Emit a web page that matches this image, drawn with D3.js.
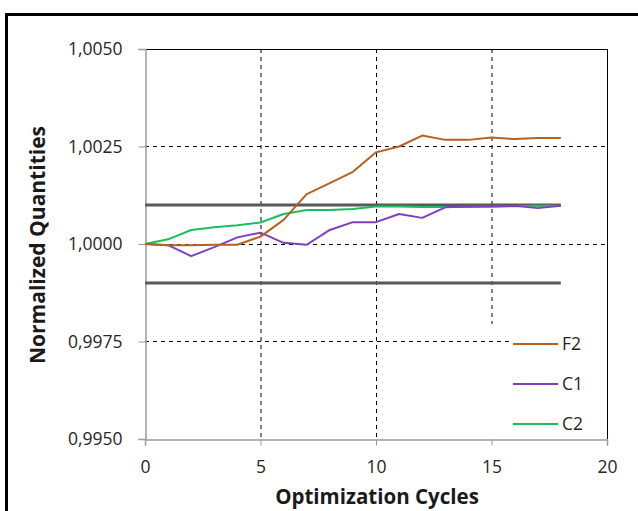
<!DOCTYPE html>
<html><head><meta charset="utf-8">
<script src="https://cdn.jsdelivr.net/npm/d3@7"></script>
<style>body{margin:0;background:#fff;} svg{display:block;font-family:"Open Sans","Liberation Sans",sans-serif;}</style>
</head><body><svg id="c" width="638" height="511"></svg>
<script>
const cycles = [0,1,2,3,4,5,6,7,8,9,10,11,12,13,14,15,16,17,18];
const F2 = [1.0000,0.99997,0.99997,0.99998,0.99998,1.00019,1.00062,1.00128,1.00156,1.00185,1.00235,1.00250,1.00278,1.00267,1.00267,1.00273,1.00269,1.00272,1.00272];
const C1 = [1.0000,0.99997,0.99969,0.99992,1.00017,1.00029,1.00003,0.99998,1.00036,1.00056,1.00056,1.00077,1.00067,1.00094,1.00096,1.00096,1.00098,1.00092,1.00098];
const C2 = [1.0000,1.00012,1.00036,1.00043,1.00048,1.00055,1.00077,1.00087,1.00087,1.00090,1.00096,1.00096,1.00095,1.00095,1.00095,1.00096,1.00097,1.00098,1.00098];
const upperLimit = [1.0010,1.0010];
const lowerLimit = [0.9990,0.9990];
const limitX = [0,18];
const yTicks = [0.9950,0.9975,1.0000,1.0025,1.0050];
const xTicks = [0,5,10,15,20];
const seriesNames = ["F2","C1","C2"];
const colors = {F2:"#B5621F",C1:"#7F3FBF",C2:"#1DBD5E"};

const svg = d3.select("#c");
const L=145,R=607,T=49,B=439;
const x = d3.scaleLinear().domain([0,20]).range([L,R]);
const y = d3.scaleLinear().domain([0.9950,1.0050]).range([B,T]);
const fmt = d => d.toFixed(4).replace(".",",");

// outer frame
svg.append("rect").attr("x",6.5).attr("y",14.5).attr("width",700).attr("height",600)
  .attr("fill","none").attr("stroke","#000").attr("stroke-width",3);

const legBox = {x0:497,y0:324,x1:606,y1:438};

// gridlines
const g = svg.append("g");
[5,10,15].forEach(v=>{
  const yEnd = v===15 ? legBox.y0 : B;
  g.append("line").attr("x1",x(v)+0.5).attr("x2",x(v)+0.5).attr("y1",T).attr("y2",yEnd)
   .attr("stroke","#000").attr("stroke-width",1).attr("stroke-dasharray","4,4");
});
[0.9975,1.0000,1.0025].forEach(v=>{
  const xEnd = v===0.9975 ? legBox.x0+12 : R;
  g.append("line").attr("y1",Math.round(y(v))+0.5).attr("y2",Math.round(y(v))+0.5).attr("x1",L).attr("x2",xEnd)
   .attr("stroke","#000").attr("stroke-width",1).attr("stroke-dasharray","4,4");
});

// plot border top/right
svg.append("line").attr("x1",L).attr("x2",R+0.5).attr("y1",T+0.5).attr("y2",T+0.5).attr("stroke","#000").attr("stroke-width",1);
svg.append("line").attr("x1",R+0.5).attr("x2",R+0.5).attr("y1",T).attr("y2",B).attr("stroke","#000").attr("stroke-width",1);

// axes
const yAxis = d3.axisLeft(y).tickValues(yTicks).tickFormat(fmt).tickSize(7).tickPadding(16);
const ya = svg.append("g").attr("transform",`translate(${L+0.5},0)`).call(yAxis);
const xAxis = d3.axisBottom(x).tickValues(xTicks).tickSize(6).tickPadding(15);
const xa = svg.append("g").attr("transform",`translate(0,${B+0.5})`).call(xAxis);
[ya,xa].forEach(a=>{
  a.select(".domain").attr("stroke","#9a9a9a").attr("stroke-width",1.5);
  a.selectAll(".tick line").attr("stroke","#9a9a9a");
  a.selectAll("text").attr("font-size",17.5).attr("fill","#262626").attr("font-family","'Open Sans','Liberation Sans',sans-serif");
});

// limit lines
const lineGen = d3.line().x(d=>x(d[0])).y(d=>y(d[1]));
[upperLimit,lowerLimit].forEach(arr=>{
  svg.append("path").datum(limitX.map((v,i)=>[v,arr[i]])).attr("d",lineGen)
    .attr("fill","none").attr("stroke","#595959").attr("stroke-width",3.2);
});

// series
const data = {F2,C1,C2};
["C2","C1","F2"].forEach(n=>{
  svg.append("path").datum(cycles.map((c,i)=>[c,data[n][i]])).attr("d",lineGen)
    .attr("fill","none").attr("stroke",colors[n]).attr("stroke-width",2).attr("stroke-linejoin","round");
});

// legend
const legY = [344,384,424];
seriesNames.forEach((n,i)=>{
  svg.append("line").attr("x1",513).attr("x2",558).attr("y1",legY[i]).attr("y2",legY[i])
    .attr("stroke",colors[n]).attr("stroke-width",2);
  svg.append("text").attr("x",562).attr("y",legY[i]).attr("dy","0.36em").attr("font-size",17.5).attr("fill","#262626").text(n);
});

// titles
svg.append("text").attr("x",(L+R)/2+1).attr("y",504).attr("text-anchor","middle")
  .attr("font-size",20.5).attr("font-weight","bold").attr("fill","#1a1a1a").text("Optimization Cycles");
svg.append("text").attr("transform",`translate(45,245) rotate(-90)`).attr("text-anchor","middle")
  .attr("font-size",21).attr("font-weight","bold").attr("fill","#1a1a1a").text("Normalized Quantities");
</script></body></html>
